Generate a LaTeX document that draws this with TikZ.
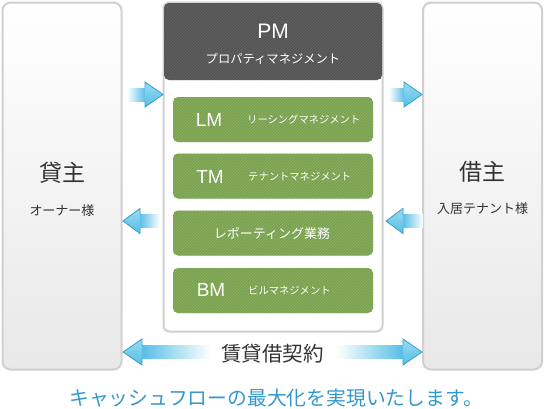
\documentclass[tikz,border=0pt]{standalone}
\usepackage{fontspec}
\setmainfont{Noto Sans CJK JP}
\newfontfamily\latf{Liberation Sans}
\usetikzlibrary{patterns}
\definecolor{boxline}{HTML}{D0D0D0}
\definecolor{pmdark}{HTML}{545454}
\definecolor{pmstripe}{HTML}{646464}
\definecolor{mgreen}{HTML}{79A150}
\definecolor{mstripe}{HTML}{8DB465}
\definecolor{txt}{HTML}{333333}
\definecolor{ablue}{HTML}{1C8FC6}
\definecolor{acyan}{HTML}{55BEE6}
\definecolor{alight}{HTML}{9ADBF2}
\definecolor{aedge}{HTML}{3A9CCB}
\definecolor{slogan}{HTML}{3399CC}
\newcommand\fs[1]{\fontsize{#1}{#1}\selectfont}
% right-pointing arrow: tail x, head base x, tip x, y, half shaft, half head
\newcommand\arrR[6]{%
  \fill[left color=white, right color=acyan] (#1,{#4-#5}) rectangle ({#2+0.5},{#4+#5});
  \path[fill=acyan, top color=alight, bottom color=acyan] (#2,{#4-#6}) -- (#3,#4) -- (#2,{#4+#6}) -- cycle;
  \draw[aedge, line width=0.8pt, line join=miter] (#2,{#4-#5}) -- (#2,{#4-#6}) -- (#3,#4) -- (#2,{#4+#6}) -- (#2,{#4+#5});
}
\newcommand\arrL[6]{%
  \fill[left color=acyan, right color=white] ({#2-0.5},{#4-#5}) rectangle (#1,{#4+#5});
  \path[fill=acyan, top color=alight, bottom color=acyan] (#2,{#4-#6}) -- (#3,#4) -- (#2,{#4+#6}) -- cycle;
  \draw[aedge, line width=0.8pt, line join=miter] (#2,{#4-#5}) -- (#2,{#4-#6}) -- (#3,#4) -- (#2,{#4+#6}) -- (#2,{#4+#5});
}
\tikzset{
  party/.style={draw=boxline, line width=2pt, rounded corners=8pt,
    top color=white, middle color=white, bottom color=black!9,
    minimum width=119pt, minimum height=367pt, inner sep=0pt},
  pmframe/.style={draw=boxline, line width=2pt, rounded corners=6pt, fill=white,
    minimum width=219pt, minimum height=329pt, inner sep=0pt},
  pmhead/.style={preaction={fill=pmdark}, pattern=north east lines, pattern color=pmstripe,
    rounded corners=5pt, minimum width=218pt, minimum height=77pt, inner sep=0pt},
  task/.style={preaction={fill=mgreen}, pattern=north east lines, pattern color=mstripe,
    rounded corners=5pt, minimum width=200pt, minimum height=45pt, inner sep=0pt},
  abbr/.style={font=\latf\fs{19}, text=white, inner sep=0pt},
  sub/.style={anchor=west, font=\fs{10.3}, text=white, inner sep=0pt},
  partyname/.style={font=\fs{23}, text=txt, inner sep=0pt},
  partysub/.style={font=\fs{13}, text=txt, inner sep=0pt},
}
\begin{document}
\begin{tikzpicture}[x=1pt,y=-1pt]
\useasboundingbox[fill=white] (0,0) rectangle (544,408);
% side boxes
\node[party] (lender) at (62,186) {};
\node[party] (tenant) at (482.5,186) {};
\node[partyname] (lendername) at (62,173) {貸主};
\node[partysub] (lendersub) at (62,211) {オーナー様};
\node[partyname] (tenantname) at (482.5,172) {借主};
\node[partysub] (tenantsub) at (482.5,209) {入居テナント様};
% PM frame
\node[pmframe] (pm) at (273,167) {};
\node[pmhead] (pmhead) at (273,41.5) {};
\node[font=\latf\fs{21}, text=white, inner sep=0pt] (pmtitle) at (273,31.5) {PM};
\node[font=\fs{12.3}, text=white, inner sep=0pt] (pmsub) at (273,59) {プロパティマネジメント};
% tasks
\node[task] (lm) at (273,119.5) {};
\node[abbr] (lmt) at (209,120) {LM};
\node[sub] (lms) at (247,120) {リーシングマネジメント};
\node[task] (tm) at (273,176) {};
\node[abbr] (tmt) at (210,177) {TM};
\node[sub] (tms) at (248,177) {テナントマネジメント};
\node[task] (rep) at (273,233) {};
\node[font=\fs{13}, text=white, inner sep=0pt] (rept) at (272,233) {レポーティング業務};
\node[task] (bm) at (273,290.5) {};
\node[abbr] (bmt) at (211,290) {BM};
\node[sub] (bms) at (248,290) {ビルマネジメント};
% arrows
\arrR{127}{145}{163}{94.5}{6.5}{12.5}
\arrR{389}{404}{422}{94.5}{6.5}{12.5}
\arrL{160}{140}{123}{221}{6.5}{12.5}
\arrL{423}{403}{386}{221}{6.5}{12.5}
% contract arrows
\fill[left color=acyan, middle color=ablue, right color=white] (141.5,345.5) rectangle (210,358.5);
\path[top color=alight, bottom color=acyan] (142,339) -- (123,352) -- (142,365) -- cycle;
\draw[aedge, line width=0.8pt] (142,345.5) -- (142,339) -- (123,352) -- (142,365) -- (142,358.5);
\fill[left color=white, middle color=ablue, right color=acyan] (337,345.5) rectangle (403.5,358.5);
\path[top color=alight, bottom color=acyan] (403,339) -- (422,352) -- (403,365) -- cycle;
\draw[aedge, line width=0.8pt] (403,345.5) -- (403,339) -- (422,352) -- (403,365) -- (403,358.5);
\node[font=\fs{20.5}, text=txt, inner sep=0pt] (contract) at (272.5,354) {賃貸借契約};
% slogan
\node[anchor=west, font=\fs{19.8}, text=slogan, inner sep=0pt] (slogan) at (69,398) {キャッシュフローの最大化を実現いたします。};
\end{tikzpicture}
\end{document}
